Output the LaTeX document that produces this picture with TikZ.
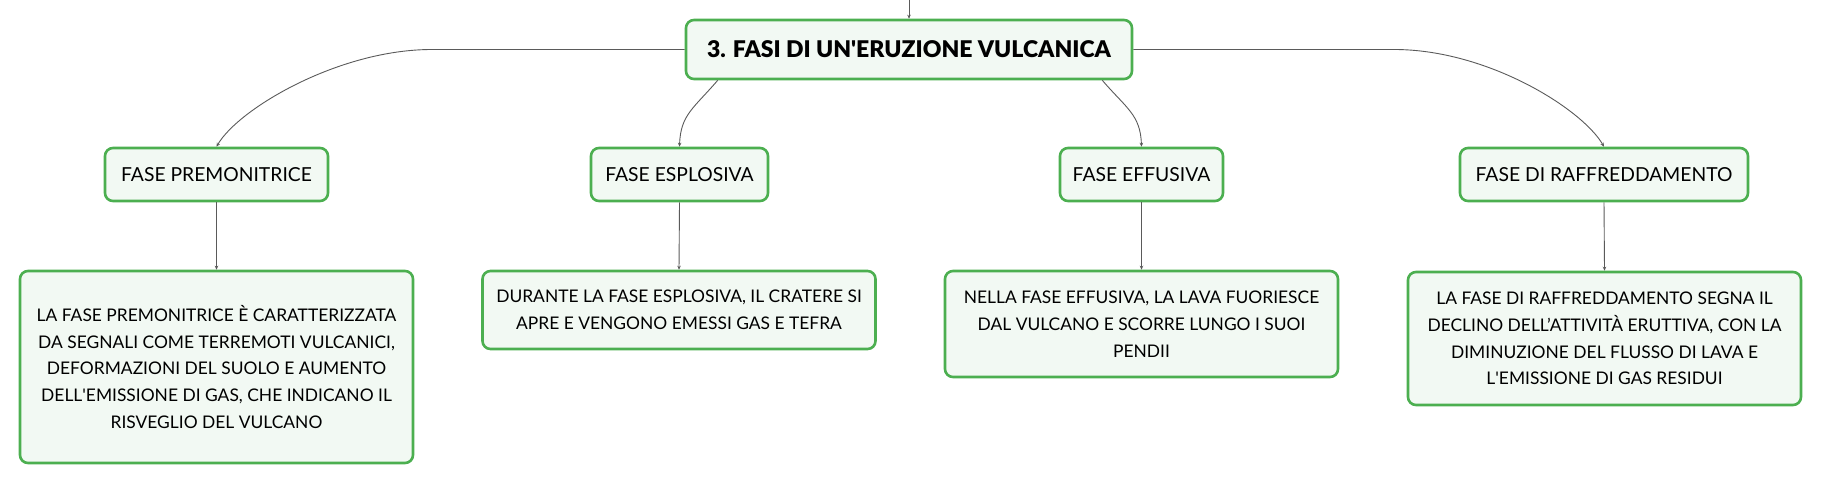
\documentclass[tikz,border=0pt]{standalone}
\usepackage{fontspec}
\setmainfont{Lato}
\newfontfamily\titlefont{Lato Black}
\usetikzlibrary{arrows.meta}
\definecolor{boxgreen}{HTML}{4CAF50}
\definecolor{boxfill}{HTML}{F2F9F3}
\definecolor{linegray}{HTML}{5A5A5A}
\tikzset{
  box/.style={draw=boxgreen, fill=boxfill, line width=2.6pt, rounded corners=8pt,
    align=center, inner sep=0pt, text=black},
  titlebox/.style={box, font=\titlefont\fontsize{23}{27}\selectfont},
  phasebox/.style={box, minimum height=53pt, font=\fontsize{19.3}{23}\selectfont},
  descbox/.style={box, minimum width=393pt, font=\fontsize{17.4}{26.7}\selectfont},
  conn/.style={draw=linegray, line width=0.9pt, -{Stealth[length=4pt,width=3.5pt]}}
}
\begin{document}
\begin{tikzpicture}[x=1pt,y=-1pt]
\useasboundingbox (0,0) rectangle (1821,483);

\node[titlebox, minimum width=446pt, minimum height=59pt] (main) at (909,49.5) {3. FASI DI UN\textquotesingle ERUZIONE VULCANICA};
\coordinate (topin) at (909,0);

\node[phasebox, minimum width=223pt] (prem) at (216.5,174.5) {FASE PREMONITRICE};
\node[phasebox, minimum width=177pt] (espl) at (679.5,174.5) {FASE ESPLOSIVA};
\node[phasebox, minimum width=163pt] (effu) at (1141.5,174.5) {FASE EFFUSIVA};
\node[phasebox, minimum width=288pt] (raff) at (1604,174.5) {FASE DI RAFFREDDAMENTO};

\node[descbox, minimum height=192pt] (premd) at (216.5,367) {LA FASE PREMONITRICE È CARATTERIZZATA\\DA SEGNALI COME TERREMOTI VULCANICI,\\DEFORMAZIONI DEL SUOLO E AUMENTO\\DELL\textquotesingle EMISSIONE DI GAS, CHE INDICANO IL\\RISVEGLIO DEL VULCANO};
\node[descbox, minimum height=78pt] (espld) at (679,310) {DURANTE LA FASE ESPLOSIVA, IL CRATERE SI\\APRE E VENGONO EMESSI GAS E TEFRA};
\node[descbox, minimum height=106pt] (effud) at (1141.5,324) {NELLA FASE EFFUSIVA, LA LAVA FUORIESCE\\DAL VULCANO E SCORRE LUNGO I SUOI\\PENDII};
\node[descbox, minimum height=133pt] (raffd) at (1604.5,338.5) {LA FASE DI RAFFREDDAMENTO SEGNA IL\\DECLINO DELL’ATTIVITÀ ERUTTIVA, CON LA\\DIMINUZIONE DEL FLUSSO DI LAVA E\\L\textquotesingle EMISSIONE DI GAS RESIDUI};

\draw[conn] (topin) -- (main.north);
\draw[conn] (main.west) -- ++(-253,0) .. controls +(-93,0) and +(22,-38) .. (prem.north);
\draw[conn] ([xshift=33pt]main.south west) .. controls +(-24,28) and +(1,-32) .. (espl.north);
\draw[conn] ([xshift=-31pt]main.south east) .. controls +(24,28) and +(-1,-32) .. (effu.north);
\draw[conn] (main.east) -- ++(261,0) .. controls +(93,0) and +(-22,-38) .. (raff.north);

\draw[conn] (prem.south) -- (premd.north);
\draw[conn] (espl.south) -- (espld.north);
\draw[conn] (effu.south) -- (effud.north);
\draw[conn] (raff.south) -- (raffd.north);
\end{tikzpicture}
\end{document}
